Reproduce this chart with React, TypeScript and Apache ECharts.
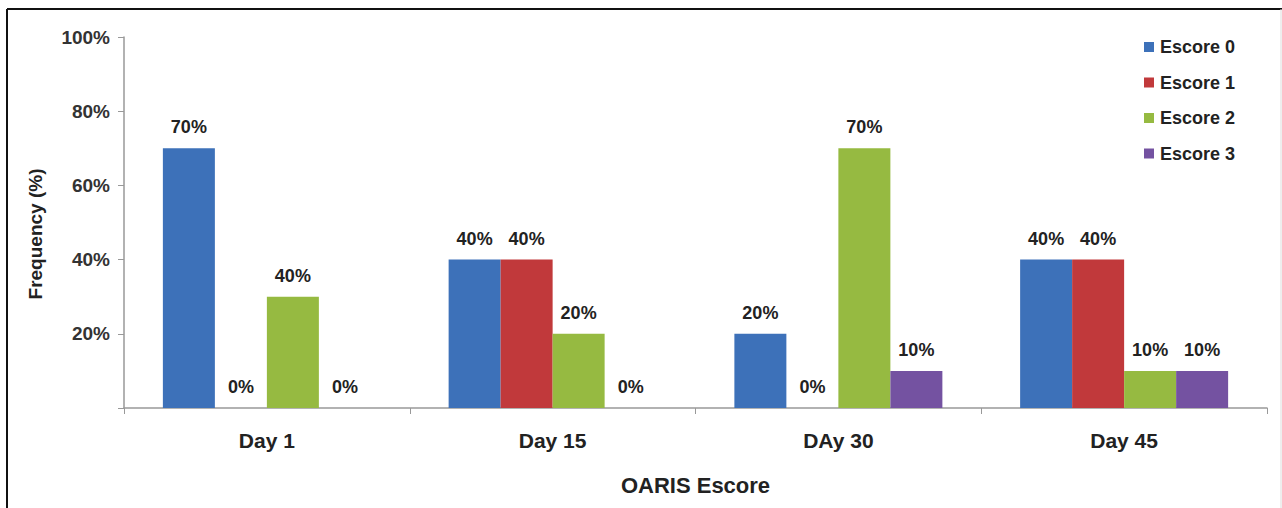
import React, { useEffect, useRef } from "react";
import * as echarts from "echarts";

const categories = ["Day 1", "Day 15", "DAy 30", "Day 45"];
const seriesNames = ["Escore 0", "Escore 1", "Escore 2", "Escore 3"];
const escore0 = [70, 40, 20, 40];
const escore1 = [0, 40, 0, 40];
const escore2 = [30, 20, 70, 10];
const escore3 = [0, 0, 10, 10];
// label texts as printed on the chart
const labels0 = ["70%", "40%", "20%", "40%"];
const labels1 = ["0%", "40%", "0%", "40%"];
const labels2 = ["40%", "20%", "70%", "10%"];
const labels3 = ["0%", "0%", "10%", "10%"];
const yTicks = [0, 20, 40, 60, 80, 100];

const colors = ["#3D71B9", "#C1393B", "#96BA41", "#7452A1"];
const FONT = "'Liberation Sans', Arial, Helvetica, sans-serif";

export default function App() {
  const ref = useRef<HTMLDivElement>(null);
  useEffect(() => {
    document.body.style.margin = "0";
    const chart = echarts.init(ref.current!, null, { renderer: "svg" });
    const values = [escore0, escore1, escore2, escore3];
    const labelTexts = [labels0, labels1, labels2, labels3];
    chart.setOption({
      animation: false,
      backgroundColor: "#ffffff",
      textStyle: { fontFamily: FONT },
      grid: { left: 124, right: 15, top: 37, bottom: 100, containLabel: false },
      legend: {
        orient: "vertical",
        left: 1139,
        top: 33,
        icon: "rect",
        itemWidth: 10,
        itemHeight: 10,
        itemGap: 17.5,
        data: seriesNames,
        textStyle: {
          fontFamily: FONT,
          fontSize: 18,
          fontWeight: "bold",
          color: "#222",
          padding: [0, 0, 0, 1],
        },
      },
      xAxis: {
        type: "category",
        data: categories,
        name: "OARIS Escore",
        nameLocation: "middle",
        nameGap: 66,
        nameTextStyle: { fontFamily: FONT, fontSize: 22, fontWeight: "bold", color: "#222" },
        axisLine: { lineStyle: { color: "#999", width: 1.5 } },
        axisTick: { show: true, interval: 0, length: 6, lineStyle: { color: "#999" } },
        axisLabel: { margin: 22, fontFamily: FONT, fontSize: 21, fontWeight: "bold", color: "#222" },
      },
      yAxis: {
        type: "value",
        min: 0,
        max: 100,
        interval: 20,
        splitLine: { show: false },
        axisLine: { show: true, lineStyle: { color: "#999", width: 1.5 } },
        axisTick: { show: true, length: 6, lineStyle: { color: "#999" } },
        axisLabel: {
          margin: 14,
          fontFamily: FONT,
          fontSize: 19,
          fontWeight: "bold",
          color: "#333",
          formatter: (v: number) => (v === 0 ? "" : yTicks.includes(v) ? v + "%" : ""),
        },
      },
      series: seriesNames.map((name, i) => ({
        name,
        type: "bar",
        data: values[i],
        barWidth: 52,
        barGap: "0%",
        itemStyle: { color: colors[i] },
        label: {
          show: true,
          position: "top",
          distance: 12,
          fontFamily: FONT,
          fontSize: 18,
          fontWeight: "bold",
          color: "#222",
          formatter: (p: any) => labelTexts[i][p.dataIndex],
        },
      })),
      graphic: [
        {
          type: "text",
          x: 35,
          y: 234,
          rotation: Math.PI / 2,
          style: {
            text: "Frequency (%)",
            fontFamily: FONT,
            fontSize: 19,
            fontWeight: "bold",
            fill: "#222",
            align: "center",
            verticalAlign: "middle",
          },
        },
        { type: "line", shape: { x1: 7, y1: 9, x2: 1282, y2: 9 }, style: { stroke: "#111", lineWidth: 2 } },
        { type: "line", shape: { x1: 7, y1: 9, x2: 7, y2: 508 }, style: { stroke: "#111", lineWidth: 2 } },
        { type: "line", shape: { x1: 1281, y1: 9, x2: 1281, y2: 508 }, style: { stroke: "#ddd", lineWidth: 1 } },
      ],
    });
    return () => chart.dispose();
  }, []);
  return <div ref={ref} style={{ width: 1282, height: 508 }} />;
}
